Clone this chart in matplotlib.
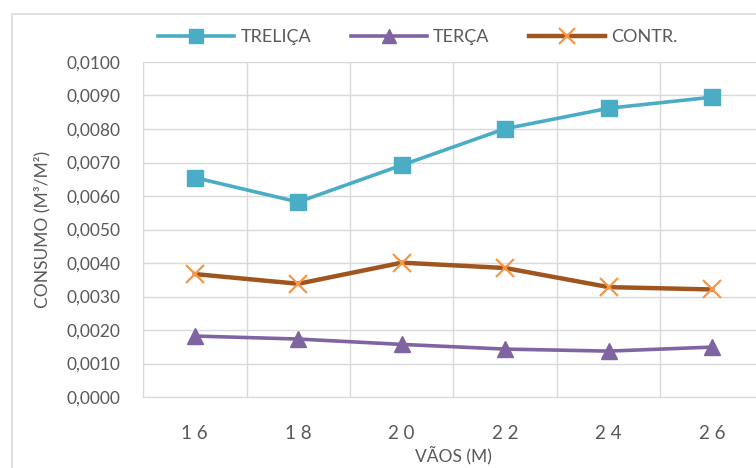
import numpy as np
import matplotlib.pyplot as plt
from matplotlib.patches import Rectangle
from matplotlib.ticker import FuncFormatter

vaos = ["1 6", "1 8", "2 0", "2 2", "2 4", "2 6"]
trelica = [0.00655, 0.00582, 0.00692, 0.00801, 0.00862, 0.00895]
terca = [0.00182, 0.00173, 0.00157, 0.00143, 0.00137, 0.00149]
contr = [0.00367, 0.00338, 0.00401, 0.00385, 0.00328, 0.00321]

plt.rcParams['font.family'] = ['Lato', 'DejaVu Sans']
grey = "#595959"

fig = plt.figure(figsize=(7.56, 4.68), dpi=100)
fig.patches.append(Rectangle((12/756, -0.1), 1.1, 1 - 14/468 + 0.1, transform=fig.transFigure,
                             fill=False, edgecolor="#D9D9D9", linewidth=1.2))
ax = fig.add_axes([143/756, 1 - 397/468, 621/756, 335/468])

x = np.arange(len(vaos))
ax.plot(x, trelica, color="#4BACC6", lw=2.6, marker="s", ms=12, label="TRELIÇA")
ax.plot(x, terca, color="#8064A2", lw=2.6, marker="^", ms=12, label="TERÇA")
ax.plot(x, contr, color="#A0541E", lw=3.2, marker="x", ms=13, mew=1.6, mec="#F79646", label="CONTR.")

ax.set_xlim(-0.5, len(vaos) - 0.5)
ax.set_ylim(0, 0.0100)
ax.set_yticks(np.arange(0, 0.01001, 0.001))
ax.yaxis.set_major_formatter(FuncFormatter(lambda v, p: f"{v:.4f}".replace(".", ",")))
ax.set_xticks(x)
ax.set_xticklabels(vaos)
ax.set_xticks(np.arange(-0.5, len(vaos), 1), minor=True)
ax.grid(True, which="minor", axis="x", color="#D9D9D9", lw=1)
ax.grid(True, which="major", axis="y", color="#D9D9D9", lw=1)
ax.tick_params(which="both", length=0, colors=grey)
ax.tick_params(axis="y", labelsize=12.5, pad=16)
ax.tick_params(axis="x", labelsize=13.5, pad=20)
for s in ax.spines.values():
    s.set_color("#D9D9D9")
ax.spines["top"].set_visible(False)
ax.spines["right"].set_visible(False)

ax.set_xlabel("VÃOS (M)", color=grey, fontsize=12.5, labelpad=3)
ax.set_ylabel("CONSUMO (M³/M²)", color=grey, fontsize=12.5, labelpad=12)

fig.legend(loc="center", bbox_to_anchor=(418/756, 1 - 37/468), ncol=3, frameon=False,
           fontsize=13, labelcolor=grey, handlelength=4.2, columnspacing=2.2,
           handletextpad=0.35, markerscale=0.85)

fig.savefig("out.png", dpi=100)
